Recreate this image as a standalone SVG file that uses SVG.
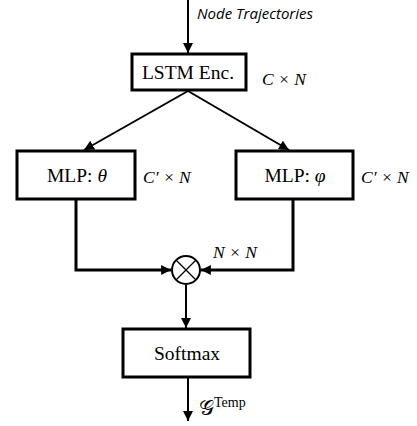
<svg xmlns="http://www.w3.org/2000/svg" width="417" height="426" viewBox="0 0 417 426">
<style>
.box{fill:#fff;stroke:#000;stroke-width:3}
.lbl{font-family:"Liberation Serif","Times New Roman",serif;font-size:19.5px;fill:#000;text-anchor:middle}
.math{font-family:"Liberation Serif","Times New Roman",serif;font-size:17.5px;font-style:italic;fill:#000}
.conn{fill:none;stroke:#000;stroke-width:2}
.thick{fill:none;stroke:#000;stroke-width:3}
</style>
<defs>
<marker id="arr" viewBox="0 0 10 10" refX="10" refY="5" markerWidth="5" markerHeight="5" markerUnits="strokeWidth" orient="auto">
<path d="M0,0 L10,5 L0,10 z" fill="#000"/>
</marker>
<marker id="arr2" viewBox="0 0 10 10" refX="10" refY="5" markerWidth="3.3" markerHeight="3.3" markerUnits="strokeWidth" orient="auto">
<path d="M0,0 L10,5 L0,10 z" fill="#000"/>
</marker>
</defs>
<g id="connectors">
<line class="conn" x1="188" y1="0" x2="188" y2="53" marker-end="url(#arr)"/>
<line class="conn" x1="188" y1="91" x2="84" y2="150" marker-end="url(#arr)"/>
<line class="conn" x1="188" y1="91" x2="289" y2="150" marker-end="url(#arr)"/>
<polyline class="thick" points="76,199 76,270 171,270" marker-end="url(#arr2)"/>
<polyline class="thick" points="293,199 293,270 201,270" marker-end="url(#arr2)"/>
<line class="conn" x1="186" y1="285" x2="186" y2="328" marker-end="url(#arr)"/>
<line class="conn" x1="188" y1="378" x2="188" y2="421" marker-end="url(#arr)"/>
</g>
<text x="197" y="19" font-family="'Open Sans','Noto Sans',sans-serif" font-size="15" font-style="italic">Node Trajectories</text>
<g id="lstm">
<rect class="box" x="132" y="54" width="114" height="36"/>
<text class="lbl" x="188" y="79">LSTM Enc.</text>
<text class="math" x="262" y="85">C × N</text>
</g>
<g id="mlp-theta">
<rect class="box" x="17" y="151" width="118" height="48"/>
<text class="lbl" x="77" y="182">MLP: <tspan font-style="italic">θ</tspan></text>
<text class="math" x="143" y="183">C′ × N</text>
</g>
<g id="mlp-phi">
<rect class="box" x="236" y="151" width="117" height="48"/>
<text class="lbl" x="295" y="182">MLP: <tspan font-style="italic">φ</tspan></text>
<text class="math" x="361" y="183">C′ × N</text>
</g>
<g id="multiply">
<circle cx="186" cy="270" r="14" fill="#fff" stroke="#000" stroke-width="2"/>
<line x1="176" y1="260" x2="196" y2="280" stroke="#000" stroke-width="1.2"/>
<line x1="196" y1="260" x2="176" y2="280" stroke="#000" stroke-width="1.2"/>
<text class="math" x="213" y="258">N × N</text>
</g>
<g id="softmax">
<rect class="box" x="123" y="329" width="127" height="48"/>
<text class="lbl" x="187" y="360">Softmax</text>
<text x="199" y="415" font-family="'DejaVu Sans','Noto Sans',serif" font-size="21">𝒢<tspan font-family="'Liberation Serif',serif" font-size="14" dy="-8">Temp</tspan></text>
</g>
</svg>
